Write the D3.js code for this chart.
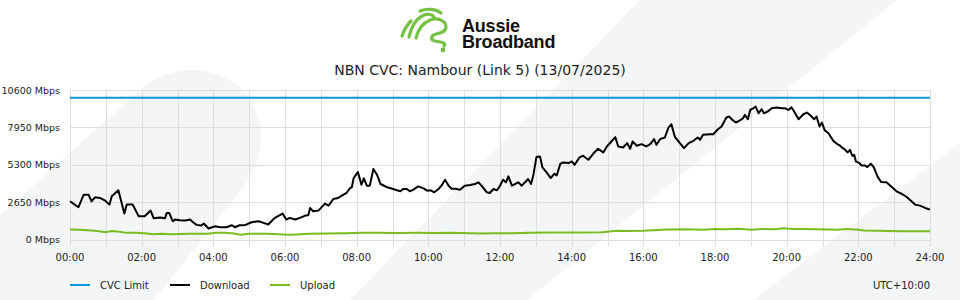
<!DOCTYPE html>
<html>
<head>
<meta charset="utf-8">
<script src="https://cdn.jsdelivr.net/npm/d3@7/dist/d3.min.js"></script>
<style>
  body { margin: 0; background: #fff; }
  svg { display: block; font-family: "DejaVu Sans", sans-serif; }
</style>
</head>
<body>
<svg id="chart" width="960" height="300"></svg>
<script>
// chart data (minutes since midnight, Mbps)
const chartTitle = "NBN CVC: Nambour (Link 5) (13/07/2025)";
const cvcLimit = 10050;
const yTicks = [0, 2650, 5300, 7950, 10600];
const xTickLabels = ["00:00", "02:00", "04:00", "06:00", "08:00", "10:00", "12:00",
  "14:00", "16:00", "18:00", "20:00", "22:00", "24:00"];

const download = [
  [0, 2709], [14, 2285], [23, 3180], [31, 3180], [36, 2709], [42, 2992], [50, 2945],
  [59, 2756], [66, 2474], [70, 3062], [81, 3486], [91, 1838], [95, 2474], [105, 2474],
  [115, 1649], [125, 1649], [135, 2050], [140, 1508], [151, 1555], [159, 1508], [162, 1885],
  [166, 1885], [172, 1296], [176, 1414], [184, 1366], [193, 1343], [201, 1414], [206, 1225],
  [212, 1037], [220, 989], [224, 1131], [232, 777], [243, 942], [251, 872], [262, 872],
  [271, 1013], [276, 872], [284, 1013], [293, 1013], [304, 1225], [316, 1296], [324, 1178],
  [332, 1060], [343, 1531], [356, 1838], [362, 1414], [368, 1531], [377, 1414], [385, 1531],
  [394, 1696], [399, 1720], [402, 2238], [407, 2002], [416, 2050], [427, 2544], [433, 2403],
  [441, 2874], [449, 2945], [458, 3180], [463, 3298], [469, 3651], [472, 3722], [475, 4358],
  [482, 4782], [488, 3887], [492, 4334], [497, 3816], [502, 3816], [508, 4994], [514, 4594],
  [520, 3934], [530, 3722], [541, 3581], [553, 3416], [558, 3581], [564, 3581], [569, 3416],
  [575, 3534], [583, 3769], [592, 3628], [598, 3463], [604, 3486], [610, 3345], [617, 3581],
  [622, 3816], [628, 4240], [634, 3816], [639, 3604], [645, 3604], [653, 3534], [661, 3816],
  [670, 3863], [678, 3934], [684, 4052], [689, 3816], [698, 3345], [703, 3298], [709, 3581],
  [715, 3486], [720, 3816], [725, 4240], [730, 4052], [734, 4476], [740, 3816], [745, 3934],
  [751, 4052], [756, 3816], [762, 4052], [767, 4287], [772, 3934], [776, 4594], [781, 5842],
  [787, 5889], [791, 5112], [798, 4758], [805, 4358], [811, 4664], [815, 4546], [821, 5371],
  [826, 5465], [835, 5418], [840, 5536], [845, 5300], [853, 5819], [859, 5936], [868, 5654],
  [876, 6078], [884, 6431], [893, 6172], [899, 6596], [905, 6878], [913, 7255], [918, 6596],
  [926, 6525], [933, 6831], [938, 6431], [942, 6949], [949, 6643], [957, 6761], [965, 6596],
  [972, 6784], [978, 7114], [982, 6714], [988, 7114], [996, 7232], [1002, 7938], [1007, 8174],
  [1013, 7255], [1020, 6902], [1028, 6478], [1036, 6831], [1044, 6996], [1051, 7232],
  [1055, 7067], [1060, 7420], [1072, 7467], [1077, 7467], [1085, 7821], [1091, 8009],
  [1099, 8645], [1104, 8716], [1109, 8480], [1115, 8292], [1123, 8480], [1127, 8598],
  [1130, 8834], [1135, 8527], [1139, 9187], [1144, 9305], [1148, 9422], [1153, 8951],
  [1158, 9234], [1162, 8951], [1168, 9069], [1175, 9305], [1183, 9352], [1192, 9305],
  [1197, 9305], [1203, 9187], [1208, 9375], [1212, 9116], [1220, 8527], [1228, 8881],
  [1234, 8999], [1240, 8787], [1246, 8527], [1250, 8716], [1255, 8009], [1259, 8292],
  [1264, 7726], [1270, 7538], [1278, 6996], [1284, 6784], [1289, 6666], [1294, 6478],
  [1298, 6360], [1302, 6172], [1306, 6360], [1310, 5936], [1313, 6007], [1316, 5536],
  [1322, 5418], [1325, 5253], [1331, 5253], [1335, 5135], [1341, 5371], [1346, 5112],
  [1352, 4476], [1358, 4075], [1367, 4052], [1376, 3722], [1384, 3416], [1393, 3227],
  [1401, 3015], [1409, 2709], [1415, 2474], [1423, 2403], [1432, 2238], [1440, 2120]
];

const upload = [
  [0, 707], [15, 690], [30, 660], [45, 610], [60, 520], [70, 600], [80, 560], [95, 470],
  [110, 470], [125, 440], [140, 380], [155, 400], [170, 380], [200, 400], [230, 400],
  [245, 471], [260, 471], [275, 420], [285, 330], [300, 400], [330, 400], [350, 380],
  [365, 330], [380, 360], [400, 400], [430, 420], [460, 440], [490, 471], [520, 471],
  [550, 460], [580, 471], [610, 460], [640, 471], [670, 450], [690, 420], [710, 440],
  [740, 450], [770, 480], [800, 500], [830, 490], [860, 500], [890, 520], [915, 620],
  [930, 600], [960, 620], [985, 680], [1000, 707], [1030, 720], [1060, 700], [1080, 740],
  [1100, 720], [1120, 760], [1140, 700], [1160, 740], [1180, 730], [1195, 790], [1210, 740],
  [1230, 750], [1250, 720], [1270, 707], [1285, 690], [1300, 740], [1315, 707], [1330, 640],
  [1350, 620], [1370, 600], [1390, 589], [1410, 589], [1440, 589]
];

const legendItems = [
  { name: "CVC Limit", color: "#0796d8" },
  { name: "Download", color: "#000000" },
  { name: "Upload", color: "#78bd1f" }
];

const svg = d3.select("#chart");
const width = 960;
const height = 300;
const margin = { left: 70, right: 30, top: 90, bottom: 60.5 };

// Background decoration
const bg = svg.append("g").attr("fill", "#f4f5f7");
bg.append("path")
  .attr("d", "M-100,305 L140,90 C170,62 225,62 250,100 C268,128 262,160 245,185 L150,305 Z");
bg.append("path").attr("d", "M350,300 L640,0 L897,0 L527,300 Z");
bg.append("path").attr("d", "M753,300 L960,143 L960,300 Z");

// Logo
const logo = svg.append("g")
  .attr("fill", "none")
  .attr("stroke", "#76c043")
  .attr("stroke-width", 3.2)
  .attr("stroke-linecap", "round");
logo.append("path").attr("d", "M402,36 C404,30 407,25 411,21");
logo.append("path").attr("d", "M409,37 C411,28 415,20 422,16 C427,13 432,14 434,17");
logo.append("path").attr("d", "M416,38 C418,30 423,23 430,20 C438,17 446,21 446,27 C446,32 440,33 436,34 C431,35 430,40 435,41 C441,42 447,43 444,46");
logo.append("path").attr("d", "M420,11 C427,8 436,9 441,13");
svg.append("circle").attr("cx", 443).attr("cy", 50).attr("r", 2.4).attr("fill", "#76c043");

svg.append("text")
  .attr("x", 462).attr("y", 31.5)
  .attr("font-family", "'Liberation Sans', Arial, sans-serif")
  .attr("font-weight", "bold")
  .attr("font-size", 18)
  .attr("letter-spacing", -0.2)
  .attr("fill", "#111")
  .text("Aussie");
svg.append("text")
  .attr("x", 462).attr("y", 48)
  .attr("font-family", "'Liberation Sans', Arial, sans-serif")
  .attr("font-weight", "bold")
  .attr("font-size", 18)
  .attr("letter-spacing", -0.2)
  .attr("fill", "#111")
  .text("Broadband");

// Title
svg.append("text")
  .attr("x", 480).attr("y", 75)
  .attr("text-anchor", "middle")
  .attr("font-size", 14)
  .attr("fill", "#222")
  .text(chartTitle);

// Scales
const x = d3.scaleLinear()
  .domain([0, 1440])
  .range([margin.left, width - margin.right]);
const y = d3.scaleLinear()
  .domain([0, 10600])
  .range([height - margin.bottom, margin.top]);

// Grid
const grid = svg.append("g").attr("stroke", "#dedede").attr("stroke-width", 1);
grid.selectAll(".hgrid")
  .data(yTicks)
  .join("line")
  .attr("x1", margin.left).attr("x2", width - margin.right)
  .attr("y1", (d) => Math.round(y(d)) + 0.5)
  .attr("y2", (d) => Math.round(y(d)) + 0.5);
grid.selectAll(".vgrid")
  .data(d3.range(0, 1441, 60))
  .join("line")
  .attr("x1", (d) => Math.round(x(d)) + 0.5)
  .attr("x2", (d) => Math.round(x(d)) + 0.5)
  .attr("y1", margin.top)
  .attr("y2", height - margin.bottom + 7);

// Y axis labels
svg.append("g")
  .selectAll("text")
  .data(yTicks)
  .join("text")
  .attr("x", 60)
  .attr("y", (d) => y(d) + 3.5)
  .attr("text-anchor", "end")
  .attr("font-size", 9.5)
  .attr("fill", "#222")
  .text((d) => d + " Mbps");

// X axis labels
svg.append("g")
  .selectAll("text")
  .data(xTickLabels)
  .join("text")
  .attr("x", (d, i) => x(i * 120))
  .attr("y", 260.5)
  .attr("text-anchor", "middle")
  .attr("font-size", 10)
  .attr("fill", "#222")
  .text((d) => d);

// Lines
const line = d3.line()
  .x((d) => x(d[0]))
  .y((d) => y(d[1]));

svg.append("line")
  .attr("x1", x(0)).attr("x2", x(1440))
  .attr("y1", y(cvcLimit)).attr("y2", y(cvcLimit))
  .attr("stroke", legendItems[0].color)
  .attr("stroke-width", 2);

svg.append("path")
  .datum(upload)
  .attr("d", line)
  .attr("fill", "none")
  .attr("stroke", legendItems[2].color)
  .attr("stroke-width", 2);

svg.append("path")
  .datum(download)
  .attr("d", line)
  .attr("fill", "none")
  .attr("stroke", legendItems[1].color)
  .attr("stroke-width", 2)
  .attr("stroke-linejoin", "round");

// Legend
const legend = svg.append("g")
  .selectAll("g")
  .data(legendItems)
  .join("g")
  .attr("transform", (d, i) => `translate(${70 + i * 100},285)`);
legend.append("line")
  .attr("x1", 0).attr("x2", 20)
  .attr("stroke", (d) => d.color)
  .attr("stroke-width", 2);
legend.append("text")
  .attr("x", 30).attr("y", 3.5)
  .attr("font-size", 10)
  .attr("fill", "#222")
  .text((d) => d.name);

svg.append("text")
  .attr("x", 930).attr("y", 288.5)
  .attr("text-anchor", "end")
  .attr("font-size", 10)
  .attr("fill", "#222")
  .text("UTC+10:00");
</script>
</body>
</html>
